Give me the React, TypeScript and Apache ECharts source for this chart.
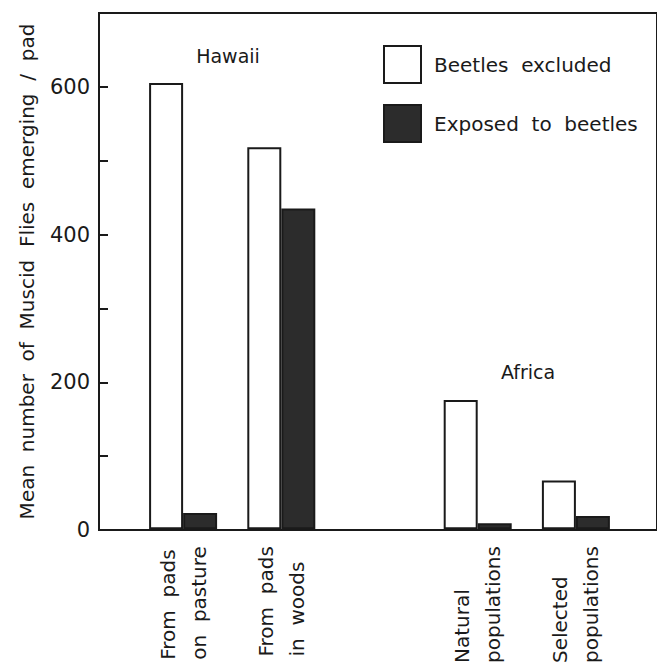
import React, { useEffect, useRef } from "react";
import * as echarts from "echarts";

const categories = [
  "From  pads\non  pasture",
  "From  pads\nin  woods",
  "",
  "Natural\npopulations",
  "Selected\npopulations",
];
const beetlesExcluded = [605, 518, null, 175, 66];
const exposedToBeetles = [22, 435, null, 8, 18];
const yTicks = [0, 200, 400, 600];
const regionLabels = ["Hawaii", "Africa"];

const FONT = "DejaVu Sans";
const INK = "#1a1a1a";

export default function App() {
  const ref = useRef<HTMLDivElement>(null);
  useEffect(() => {
    document.body.style.margin = "0";
    const chart = echarts.init(ref.current!, null, { renderer: "svg" });
    const option = {
      animation: false,
      backgroundColor: "#ffffff",
      legend: {
        left: 383,
        top: 45,
        padding: 0,
        orient: "vertical",
        itemWidth: 37,
        itemHeight: 37,
        itemGap: 20,
        icon: "rect",
        selectedMode: false,
        textStyle: {
          fontFamily: FONT,
          fontSize: 20,
          color: INK,
          padding: [0, 0, 0, 8],
        },
        data: ["Beetles  excluded", "Exposed  to  beetles"],
      },
      grid: [
        {
          left: 99,
          top: 13,
          right: -6,
          bottom: 136,
          show: true,
          borderColor: INK,
          borderWidth: 2,
          backgroundColor: "transparent",
        },
        { left: 134, top: 13, right: 32, bottom: 136 },
      ],
      xAxis: [
        { type: "value", gridIndex: 0, show: false, min: 0, max: 1 },
        {
          type: "category",
          gridIndex: 1,
          data: categories,
          axisLine: { show: false },
          axisTick: { show: false },
          axisLabel: {
            rotate: 90,
            margin: 17,
            interval: 0,
            formatter: (v: string) =>
              v
                .split("\n")
                .map((l) => `{a|${l}}`)
                .join("\n"),
            rich: {
              a: {
                align: "left",
                fontFamily: FONT,
                fontSize: 20,
                lineHeight: 31,
                color: INK,
              },
            },
          },
        },
      ],
      yAxis: [
        {
          type: "value",
          gridIndex: 0,
          min: 0,
          max: 700,
          interval: 100,
          splitLine: { show: false },
          axisLine: { show: true, lineStyle: { color: INK, width: 2 } },
          axisTick: {
            show: true,
            inside: true,
            length: 9,
            lineStyle: { color: INK, width: 2 },
          },
          axisLabel: {
            margin: 9,
            fontFamily: FONT,
            fontSize: 21,
            color: INK,
            formatter: (v: number) => (yTicks.includes(v) ? String(v) : ""),
          },
          name: "Mean  number  of  Muscid  Flies  emerging  /  pad",
          nameLocation: "middle",
          nameGap: 62,
          nameTextStyle: { fontFamily: FONT, fontSize: 20, color: INK },
        },
        {
          type: "value",
          gridIndex: 1,
          min: 0,
          max: 700,
          interval: 100,
          show: false,
          splitLine: { show: false },
        },
      ],
      graphic: [
        {
          type: "text",
          x: 228,
          y: 56,
          style: {
            text: regionLabels[0],
            fontFamily: FONT,
            fontSize: 19,
            fill: INK,
            align: "center",
            verticalAlign: "middle",
          },
        },
        {
          type: "text",
          x: 528,
          y: 372,
          style: {
            text: regionLabels[1],
            fontFamily: FONT,
            fontSize: 19,
            fill: INK,
            align: "center",
            verticalAlign: "middle",
          },
        },
      ],
      series: [
        {
          name: "Beetles  excluded",
          type: "bar",
          xAxisIndex: 1,
          yAxisIndex: 1,
          data: beetlesExcluded,
          barWidth: 34,
          barGap: "0%",
          itemStyle: { color: "#ffffff", borderColor: INK, borderWidth: 2 },
        },
        {
          name: "Exposed  to  beetles",
          type: "bar",
          xAxisIndex: 1,
          yAxisIndex: 1,
          data: exposedToBeetles,
          barWidth: 34,
          barGap: "0%",
          itemStyle: { color: "#2c2c2c", borderColor: INK, borderWidth: 2 },
        },
      ],
    };
    chart.setOption(option as any);
    return () => chart.dispose();
  }, []);
  return <div ref={ref} style={{ width: 657, height: 666 }} />;
}
